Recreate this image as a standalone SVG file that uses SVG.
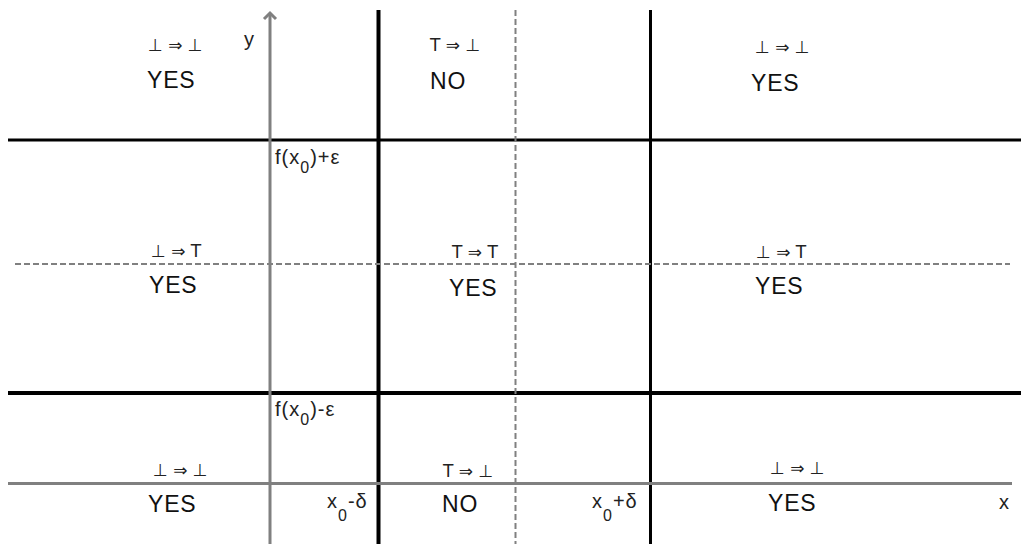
<svg xmlns="http://www.w3.org/2000/svg" width="1021" height="544" viewBox="0 0 1021 544">
<style>
.big{font-family:"Liberation Sans","DejaVu Sans",sans-serif;font-size:23px;letter-spacing:0.8px;fill:#111}
.imp{font-family:"DejaVu Sans","Liberation Sans",sans-serif;font-size:17px;fill:#222}
.ax{font-family:"Liberation Sans","DejaVu Sans",sans-serif;font-size:20px;letter-spacing:1px;fill:#222}
.sub{font-size:16px}
.blk{stroke:#000;fill:none}
.gry{stroke:#808080;fill:none;stroke-width:3}
.dsh{stroke:#808080;fill:none;stroke-width:2;stroke-dasharray:6 3}
</style>
<rect width="1021" height="544" fill="#fff"/>
<g id="grid">
<line class="blk" x1="8" y1="140" x2="1021" y2="140" stroke-width="3"/>
<line class="blk" x1="8" y1="393" x2="1021" y2="393" stroke-width="4"/>
<line class="blk" x1="378.5" y1="10" x2="378.5" y2="544" stroke-width="4"/>
<line class="blk" x1="650.5" y1="10" x2="650.5" y2="544" stroke-width="3"/>
<line class="dsh" x1="15" y1="264" x2="1010" y2="264"/>
<line class="dsh" x1="515.5" y1="10" x2="515.5" y2="544"/>
<line class="gry" x1="8" y1="483.5" x2="1012" y2="483.5"/>
<line class="gry" x1="270" y1="13" x2="270" y2="544"/>
<polyline class="gry" points="264,19 270,13 276,19" stroke-width="2"/>
</g>
<g id="axis-labels">
<text class="ax" x="244" y="46" font-size="22">y</text>
<text class="ax" x="999" y="509" font-size="18">x</text>
<text class="ax" x="275" y="164">f(x<tspan class="sub" dy="9">0</tspan><tspan dy="-9">)+ε</tspan></text>
<text class="ax" x="275" y="416">f(x<tspan class="sub" dy="9">0</tspan><tspan dy="-9">)-ε</tspan></text>
<text class="ax" x="327" y="508">x<tspan class="sub" dy="13">0</tspan><tspan dy="-13">-δ</tspan></text>
<text class="ax" x="592" y="508">x<tspan class="sub" dy="13">0</tspan><tspan dy="-13">+δ</tspan></text>
</g>
<g id="cell-top-left"><text class="imp" x="148" y="51">⊥ ⇒ ⊥</text><text class="big" x="147" y="88">YES</text></g>
<g id="cell-top-mid"><text class="imp" x="430" y="51">T ⇒ ⊥</text><text class="big" x="430" y="89">NO</text></g>
<g id="cell-top-right"><text class="imp" x="755" y="53">⊥ ⇒ ⊥</text><text class="big" x="751" y="91">YES</text></g>
<g id="cell-mid-left"><text class="imp" x="151" y="257">⊥ ⇒ T</text><text class="big" x="149" y="293">YES</text></g>
<g id="cell-mid-mid"><text class="imp" x="452" y="258">T ⇒ T</text><text class="big" x="449" y="296">YES</text></g>
<g id="cell-mid-right"><text class="imp" x="756" y="258">⊥ ⇒ T</text><text class="big" x="755" y="294">YES</text></g>
<g id="cell-bot-left"><text class="imp" x="153" y="476">⊥ ⇒ ⊥</text><text class="big" x="148" y="512">YES</text></g>
<g id="cell-bot-mid"><text class="imp" x="443" y="477">T ⇒ ⊥</text><text class="big" x="442" y="512">NO</text></g>
<g id="cell-bot-right"><text class="imp" x="770" y="474">⊥ ⇒ ⊥</text><text class="big" x="768" y="511">YES</text></g>
</svg>
